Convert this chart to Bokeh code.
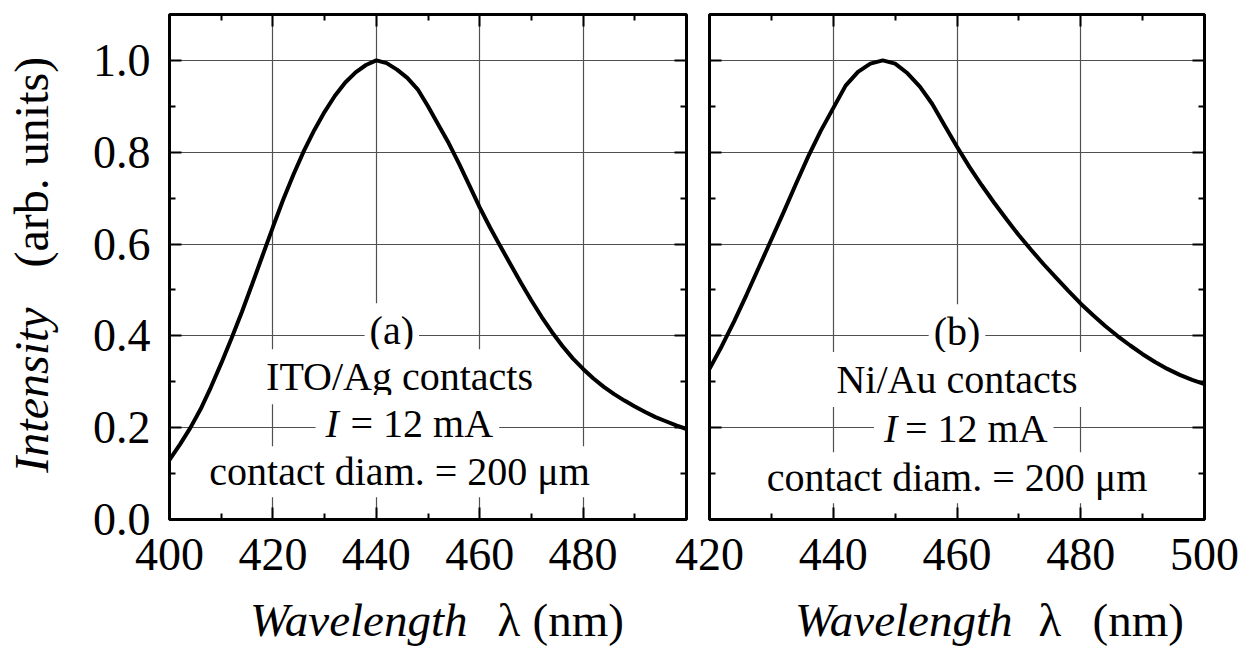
from math import pi
from bokeh.plotting import figure
from bokeh.models import FixedTicker, LinearAxis, Label, Range1d, PrintfTickFormatter
from bokeh.layouts import row, column
from bokeh.core.properties import value
from bokeh.embed import file_html
from bokeh.resources import INLINE

# ---------------- data ----------------
# Panel (a): ITO/Ag contacts
wl_a = [400, 402, 404, 406, 408, 410, 412, 414, 416, 418, 420, 422, 424, 426, 428,
        430, 432, 434, 436, 438, 440, 442, 444, 446, 448, 450, 452, 454, 456, 458,
        460, 462, 464, 466, 468, 470, 472, 474, 476, 478, 480, 482, 484, 486, 488,
        490, 492, 494, 496, 498, 500]
int_a = [0.13, 0.163, 0.199, 0.24, 0.288, 0.34, 0.395, 0.452, 0.513, 0.575, 0.637,
         0.697, 0.752, 0.803, 0.848, 0.888, 0.923, 0.952, 0.974, 0.99, 1.0, 0.994,
         0.98, 0.962, 0.937, 0.90, 0.86, 0.82, 0.775, 0.728, 0.68, 0.636, 0.595,
         0.555, 0.515, 0.477, 0.441, 0.408, 0.378, 0.351, 0.328, 0.307, 0.289, 0.273,
         0.259, 0.246, 0.234, 0.223, 0.214, 0.205, 0.197]

# Panel (b): Ni/Au contacts
wl_b = [420, 422, 424, 426, 428, 430, 432, 434, 436, 438, 440, 442, 444, 446, 448,
        450, 452, 454, 456, 458, 460, 462, 464, 466, 468, 470, 472, 474, 476, 478,
        480, 482, 484, 486, 488, 490, 492, 494, 496, 498, 500]
int_b = [0.328, 0.378, 0.432, 0.49, 0.55, 0.61, 0.67, 0.732, 0.792, 0.847, 0.896,
         0.945, 0.975, 0.993, 1.0, 0.993, 0.972, 0.943, 0.905, 0.858, 0.812, 0.768,
         0.728, 0.69, 0.654, 0.619, 0.587, 0.556, 0.527, 0.498, 0.47, 0.445, 0.421,
         0.399, 0.379, 0.36, 0.343, 0.328, 0.315, 0.304, 0.295]

x_ticks_a = [400, 420, 440, 460, 480]
x_minor_a = [410, 430, 450, 470, 490]
x_ticks_b = [420, 440, 460, 480, 500]
x_minor_b = [430, 450, 470, 490]
y_ticks = [0.0, 0.2, 0.4, 0.6, 0.8, 1.0]
y_minor = [0.1, 0.3, 0.5, 0.7, 0.9]

label_a = ["(a)", "ITO/Ag contacts", "I", "= 12 mA", "contact diam. = 200 \u03bcm"]
label_b = ["(b)", "Ni/Au contacts", "I", "= 12 mA", "contact diam. = 200 \u03bcm"]
x_title = ["Wavelength", "\u03bb", "(nm)"]
y_title = ["Intensity", "(arb. units)"]

FONT = "Liberation Serif"
GRID = "#505050"
TOP_B = 14
FRAME_H = 505
BOTTOM_B = 100
PANEL_H = TOP_B + FRAME_H + BOTTOM_B
YT_W = 62
LIFT = 0.03   # raise the in-panel labels slightly


def style_axis(ax, ticks, minor, show_labels, fmt=None):
    ax.ticker = FixedTicker(ticks=ticks, minor_ticks=minor)
    ax.axis_line_color = None
    ax.major_tick_in = 12
    ax.major_tick_out = 0
    ax.minor_tick_in = 6
    ax.minor_tick_out = 0
    ax.major_tick_line_width = 2
    ax.minor_tick_line_width = 2
    ax.major_tick_line_color = "black"
    ax.minor_tick_line_color = "black"
    ax.major_label_text_font = FONT
    if fmt is not None:
        ax.formatter = fmt
    if show_labels:
        ax.major_label_text_font_size = "46px"
        ax.major_label_text_color = "black"
    else:
        ax.major_label_text_font_size = "2px"
        ax.major_label_text_color = None
        ax.major_label_standoff = 0


def make_panel(xs, ys, xr, xticks, xminor, frame_w, left_b, right_b, show_ylabels):
    p = figure(x_range=Range1d(*xr), y_range=Range1d(0, 1.1),
               frame_width=frame_w, frame_height=FRAME_H,
               min_border_left=left_b, min_border_right=right_b,
               min_border_top=TOP_B, min_border_bottom=BOTTOM_B,
               output_backend="svg", toolbar_location=None)
    p.outline_line_color = "black"
    p.outline_line_width = 3
    p.outline_line_alpha = 1.0
    p.line(xs, ys, line_width=4, line_color="black")
    style_axis(p.xaxis[0], xticks, xminor, True)
    p.xaxis[0].major_label_standoff = 19
    style_axis(p.yaxis[0], y_ticks, y_minor, show_ylabels, PrintfTickFormatter(format="%.1f"))
    if show_ylabels:
        p.yaxis[0].major_label_standoff = 19
    top = LinearAxis()
    style_axis(top, xticks, xminor, False)
    p.add_layout(top, "above")
    right = LinearAxis()
    style_axis(right, y_ticks, y_minor, False)
    p.add_layout(right, "right")
    p.xgrid.ticker = FixedTicker(ticks=xticks)
    p.ygrid.ticker = FixedTicker(ticks=y_ticks)
    for g in (p.xgrid, p.ygrid):
        g.grid_line_color = GRID
        g.grid_line_width = 1.2
    return p


def add_text(p, x, y, text, size, style="normal", align="center", x_off=0, pad=5):
    lab = Label(x=x, y=y + LIFT, x_units="data", y_units="data", text=text,
                text_font=FONT, text_font_size=size, text_font_style=style,
                text_align=align, text_baseline="alphabetic", text_color="black",
                x_offset=x_off, background_fill_color="white",
                background_fill_alpha=1.0, padding=pad)
    p.add_layout(lab)


def blank_figure(w, h, xr, yr, top=0, bottom=0):
    f = figure(width=w, height=h, x_range=Range1d(*xr), y_range=Range1d(*yr),
               min_border=0, min_border_left=0, min_border_right=0,
               min_border_top=top, min_border_bottom=bottom,
               x_axis_location=None, y_axis_location=None,
               output_backend="svg", toolbar_location=None)
    f.outline_line_color = None
    f.xgrid.visible = False
    f.ygrid.visible = False
    f.border_fill_color = None
    f.background_fill_color = None
    return f


# ---------------- panel (a) ----------------
pa = make_panel(wl_a, int_a, (400, 500), x_ticks_a, x_minor_a, 517, 169 - YT_W, 10, True)
cx_a = 444.5
add_text(pa, 443.0, 0.381, label_a[0], "40px")
add_text(pa, cx_a, 0.281, label_a[1], "40px")
add_text(pa, cx_a, 0.179, label_a[2], "40px", style="italic", align="left", x_off=-84, pad=10)
add_text(pa, cx_a, 0.179, label_a[3], "40px", align="left", x_off=-55, pad=6)
add_text(pa, cx_a, 0.074, label_a[4], "40px", pad=3)

# ---------------- panel (b) ----------------
pb = make_panel(wl_b, int_b, (420, 500), x_ticks_b, x_minor_b, 495, 41, 40, False)
pb.border_fill_color = None
pb.margin = (0, 0, 0, -28)
cx_b = 460.0
add_text(pb, cx_b, 0.379, label_b[0], "40px")
add_text(pb, cx_b, 0.275, label_b[1], "40px")
add_text(pb, cx_b, 0.168, label_b[2], "40px", style="italic", align="left", x_off=-83, pad=10)
add_text(pb, cx_b, 0.168, label_b[3], "40px", align="left", x_off=-58, pad=6)
add_text(pb, cx_b, 0.061, label_b[4], "40px", pad=3)

# ---------------- y-axis title (rotated), same vertical scale as the panels ----------------
fy = blank_figure(YT_W, PANEL_H, (0, YT_W), (0, 1.1), top=TOP_B, bottom=BOTTOM_B)
fy.text(x=[31, 31], y=[0.102, 0.549], text=y_title,
        angle=pi / 2, text_font=value(FONT), text_font_size="48px",
        text_font_style=["italic", "normal"], text_align="left",
        text_baseline="alphabetic", text_color="black")

# ---------------- x-axis titles ----------------
TOTAL_W = 1244
XT_H = 58
XT_OVERLAP = 31
fx = blank_figure(TOTAL_W, XT_H, (0, TOTAL_W), (0, XT_H))
fx.margin = (-XT_OVERLAP, 0, 0, 0)
base = 27
fx.text(x=[467, 1012], y=[base, base], text=[x_title[0]] * 2,
        text_font=value(FONT), text_font_size="47px", text_font_style="italic",
        text_align="right", text_baseline="alphabetic", text_color="black")
fx.text(x=[497, 1038], y=[base, base], text=[x_title[1]] * 2,
        text_font=value(FONT), text_font_size="47px",
        text_align="left", text_baseline="alphabetic", text_color="black")
fx.text(x=[532, 1092], y=[base, base], text=[x_title[2]] * 2,
        text_font=value(FONT), text_font_size="47px",
        text_align="left", text_baseline="alphabetic", text_color="black")

layout = column(row(fy, pa, pb), fx)
open("out.html", "w").write(file_html(layout, INLINE))
